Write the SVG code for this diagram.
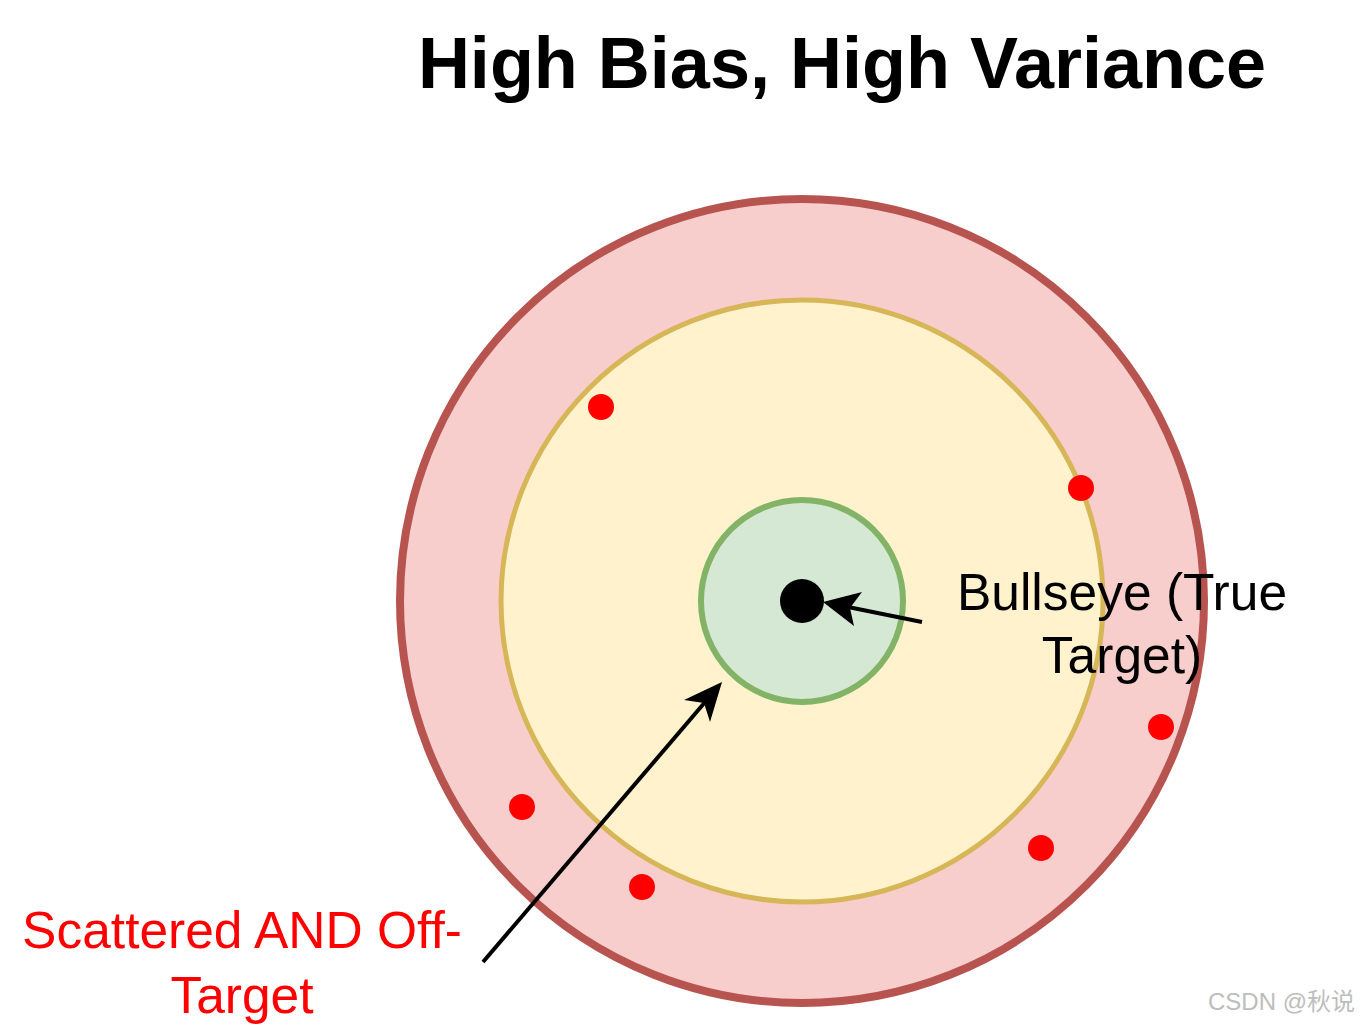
<svg xmlns="http://www.w3.org/2000/svg" width="1360" height="1024" viewBox="0 0 1360 1024">
<style>
.t{font-family:"Liberation Sans",Arial,sans-serif;text-anchor:middle}
.dot{fill:#ff0000}
.conn{stroke:#000;stroke-width:4;fill:none}
.head{fill:#000;stroke:none}
</style>
<rect width="1360" height="1024" fill="#ffffff"/>
<g id="title"><text class="t" x="842" y="88" font-size="72" font-weight="bold" fill="#000">High Bias, High Variance</text></g>
<g id="outer-ring"><circle cx="802" cy="601" r="402" fill="#f8cecc" stroke="#b85450" stroke-width="8"/></g>
<g id="middle-ring"><circle cx="802" cy="601" r="301" fill="#fff2cc" stroke="#d6b656" stroke-width="5"/></g>
<g id="inner-ring"><circle cx="802" cy="601" r="101" fill="#d5e8d4" stroke="#82b366" stroke-width="6"/></g>
<g id="bullseye"><circle cx="802" cy="601" r="22" fill="#000"/></g>
<g id="shots">
<circle class="dot" cx="601" cy="407" r="13"/>
<circle class="dot" cx="1081" cy="488" r="13"/>
<circle class="dot" cx="1161" cy="727" r="13"/>
<circle class="dot" cx="1041" cy="848" r="13"/>
<circle class="dot" cx="522" cy="807" r="13"/>
<circle class="dot" cx="642" cy="887" r="13"/>
</g>
<g id="connectors">
<line class="conn" x1="922" y1="622" x2="848" y2="607"/>
<polygon class="head" points="823,602 862,592 850,608 854,626"/>
<line class="conn" x1="483" y1="962" x2="706" y2="701"/>
<polygon class="head" points="722,682 710,722 704,703 684,700"/>
</g>
<g id="label-bullseye"><text class="t" font-size="51.5" fill="#000"><tspan x="1122" y="610">Bullseye (True</tspan><tspan x="1122" y="673">Target)</tspan></text></g>
<g id="label-scattered"><text class="t" font-size="51.5" fill="#ff0000"><tspan x="242" y="948">Scattered AND Off-</tspan><tspan x="242" y="1013">Target</tspan></text></g>
<g id="watermark"><text x="1355" y="1010" font-family="'Liberation Sans','Noto Sans CJK SC',sans-serif" font-size="24" fill="#bdbdbd" text-anchor="end">CSDN @秋说</text></g>
</svg>
